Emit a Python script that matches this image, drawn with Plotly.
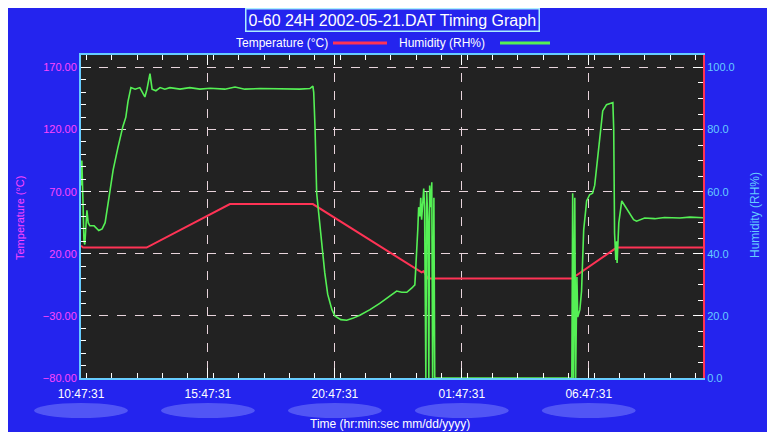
import pandas as pd
import plotly.graph_objects as go

# ---------------- data ----------------
start_time = "2002-05-21 10:47:31"

temp_minutes = [0, 5, 155, 352, 548, 805, 810, 820, 1160, 1266, 1470]
temp_values = [26.5, 25, 25, 60, 60, 5, 6, 0, 0, 25, 25]

hum_minutes = [0, 2, 5, 7, 9, 12, 14, 17, 21, 31,
               42, 50, 57, 66, 76, 87, 99, 106, 111, 118,
               128, 139, 146, 151, 156, 161, 163, 168, 177, 187,
               198, 210, 234, 257, 281, 305, 340, 364, 387, 423,
               470, 517, 541, 548, 550, 553, 557, 564, 569, 576,
               583, 593, 600, 614, 628, 642, 659, 683, 706, 730,
               746, 758, 770, 782, 789, 791, 794, 796, 798, 801,
               803, 805, 808, 810, 812, 815, 817, 820, 822, 824,
               827, 829, 831, 834, 836, 1160, 1162, 1164, 1167, 1169,
               1172, 1174, 1179, 1183, 1188, 1195, 1202, 1209, 1214, 1219,
               1226, 1233, 1242, 1250, 1257, 1259, 1261, 1264, 1266, 1267,
               1271, 1278, 1287, 1297, 1306, 1313, 1332, 1356, 1379, 1415,
               1439, 1470]
hum_values = [62, 70, 55, 44, 43, 52, 54, 50, 49, 49,
              47.5, 48, 50, 58, 67, 74, 81, 84, 89, 93.5,
              93, 93.5, 92, 90.5, 93, 96, 98, 93, 92.5, 93.5,
              93, 93.5, 93, 93.5, 93, 93.3, 93, 93.7, 93, 93.2,
              93, 93, 93.2, 94, 92, 81, 59.5, 50, 43, 34,
              27, 22, 20, 18.8, 18.6, 19.2, 20.2, 22, 24, 26.5,
              28, 27.6, 27.6, 29, 30, 35, 41, 48, 55, 52,
              58, 51, 57, 61, 55, 0, 60, 50, 0, 62,
              55, 63, 0, 58, 0, 0, 59.5, 0, 58, 0,
              32.5, 19.6, 22, 28, 47.6, 57, 59, 59.5, 62, 68,
              77.5, 86, 88, 88.5, 88.7, 80, 46.6, 38, 44, 37,
              50, 57, 55, 53, 51, 50.5, 51.5, 51.3, 51.7, 51.5,
              51.8, 51.6]

total_minutes = 1470
major_hours = 5

title_text = "0-60 24H 2002-05-21.DAT Timing Graph"
temp_name = "Temperature (°C)"
hum_name = "Humidity (RH%)"
x_title = "Time (hr:min:sec mm/dd/yyyy)"

# ---------------- build ----------------
t0 = pd.Timestamp(start_time)
temp_t = [t0 + pd.Timedelta(minutes=m) for m in temp_minutes]
hum_t = [t0 + pd.Timedelta(minutes=m) for m in hum_minutes]
t_end = t0 + pd.Timedelta(minutes=total_minutes)

# figure sits 8px into the page (body margin)
W, H = 760, 424
L, R, T, B = 73, 65, 47, 54
PW, PH = W - L - R, H - T - B
OFF = 8


def px(x):  # screenshot x -> paper
    return (x - OFF - L) / PW


def py(y):  # screenshot y -> paper
    return (H - B - (y - OFF)) / PH


BLUE = "#2424ee"
MAGENTA = "#ff44ff"
CYAN = "#66ccff"
RED = "#ff3355"
GREEN = "#55f055"
GRID = "#e8d4dc"
FONT = "Liberation Sans, Arial, sans-serif"

fig = go.Figure()
fig.add_trace(go.Scatter(x=temp_t, y=temp_values, mode="lines", name=temp_name,
                         line=dict(color=RED, width=2), yaxis="y", showlegend=False))
fig.add_trace(go.Scatter(x=hum_t, y=hum_values, mode="lines", name=hum_name,
                         line=dict(color=GREEN, width=1.6), yaxis="y2", showlegend=False))

shapes = [
    dict(type="line", xref="paper", yref="paper", x0=px(333), x1=px(387), y0=py(43), y1=py(43),
         line=dict(color=RED, width=3)),
    dict(type="line", xref="paper", yref="paper", x0=px(500), x1=px(550), y0=py(43), y1=py(43),
         line=dict(color=GREEN, width=3)),
]
# blurred date-label ovals under each major tick
span = total_minutes / 60.0
for k in range(0, 5):
    c = major_hours * k / span
    half = 1.85 / span
    shapes.append(dict(type="circle", xref="paper", yref="paper", x0=c - half, x1=c + half,
                       y0=py(418), y1=py(403), fillcolor="rgba(150,160,255,0.4)",
                       line=dict(width=0), layer="above"))

annotations = [
    dict(text=title_text, xref="paper", yref="paper", x=px(392), y=py(20), showarrow=False,
         font=dict(color="white", size=16, family=FONT), bordercolor="#aaeeff", borderwidth=1.5,
         borderpad=2, xanchor="center", yanchor="middle"),
    dict(text=temp_name, xref="paper", yref="paper", x=px(330), y=py(43), showarrow=False,
         font=dict(color="white", size=12, family=FONT), xanchor="right", yanchor="middle"),
    dict(text=hum_name, xref="paper", yref="paper", x=px(397), y=py(43), showarrow=False,
         font=dict(color="white", size=12, family=FONT), xanchor="left", yanchor="middle"),
    dict(text=temp_name, xref="paper", yref="paper", x=px(20), y=py(218), showarrow=False,
         textangle=-90, font=dict(color=MAGENTA, size=11, family=FONT),
         xanchor="center", yanchor="middle"),
    dict(text=hum_name, xref="paper", yref="paper", x=px(755), y=py(215), showarrow=False,
         textangle=-90, font=dict(color=CYAN, size=12, family=FONT),
         xanchor="center", yanchor="middle"),
    dict(text=x_title, xref="paper", yref="paper", x=px(390), y=py(424), showarrow=False,
         font=dict(color="white", size=12, family=FONT), xanchor="center", yanchor="middle"),
]

fig.update_layout(
    width=W, height=H,
    margin=dict(l=L, r=R, t=T, b=B, pad=0),
    paper_bgcolor=BLUE,
    plot_bgcolor="#222222",
    font=dict(family=FONT, size=11),
    shapes=shapes,
    annotations=annotations,
    xaxis=dict(
        type="date", range=[t0, t_end], tick0=t0, dtick=major_hours * 3600 * 1000,
        tickformat="%H:%M:%S", tickfont=dict(color="white", size=12),
        showgrid=True, gridcolor=GRID, griddash="dash", gridwidth=1,
        showline=True, linecolor=CYAN, linewidth=2, mirror="ticks",
        ticks="inside", ticklen=10, tickcolor="white", tickwidth=1,
        ticklabelstandoff=4,
        minor=dict(dtick=3600 * 1000, ticks="inside", ticklen=5, tickcolor="white", showgrid=False),
        zeroline=False,
    ),
    yaxis=dict(
        range=[-80, 180], tick0=-80, dtick=50, tickformat=".2f",
        tickfont=dict(color=MAGENTA, size=11),
        showgrid=True, gridcolor=GRID, griddash="dash", gridwidth=1,
        showline=True, linecolor=CYAN, linewidth=2,
        ticks="inside", ticklen=10, tickcolor="white",
        minor=dict(dtick=10, ticks="inside", ticklen=5, tickcolor="white", showgrid=False),
        zeroline=False,
    ),
    yaxis2=dict(
        overlaying="y", side="right", range=[0, 104], tick0=0, dtick=20, tickformat=".1f",
        tickfont=dict(color=CYAN, size=11),
        showgrid=False, showline=True, linecolor=RED, linewidth=2,
        ticks="inside", ticklen=10, tickcolor="white",
        minor=dict(dtick=5, ticks="inside", ticklen=5, tickcolor="white", showgrid=False),
        zeroline=False,
    ),
)

fig.write_html("out.html")
